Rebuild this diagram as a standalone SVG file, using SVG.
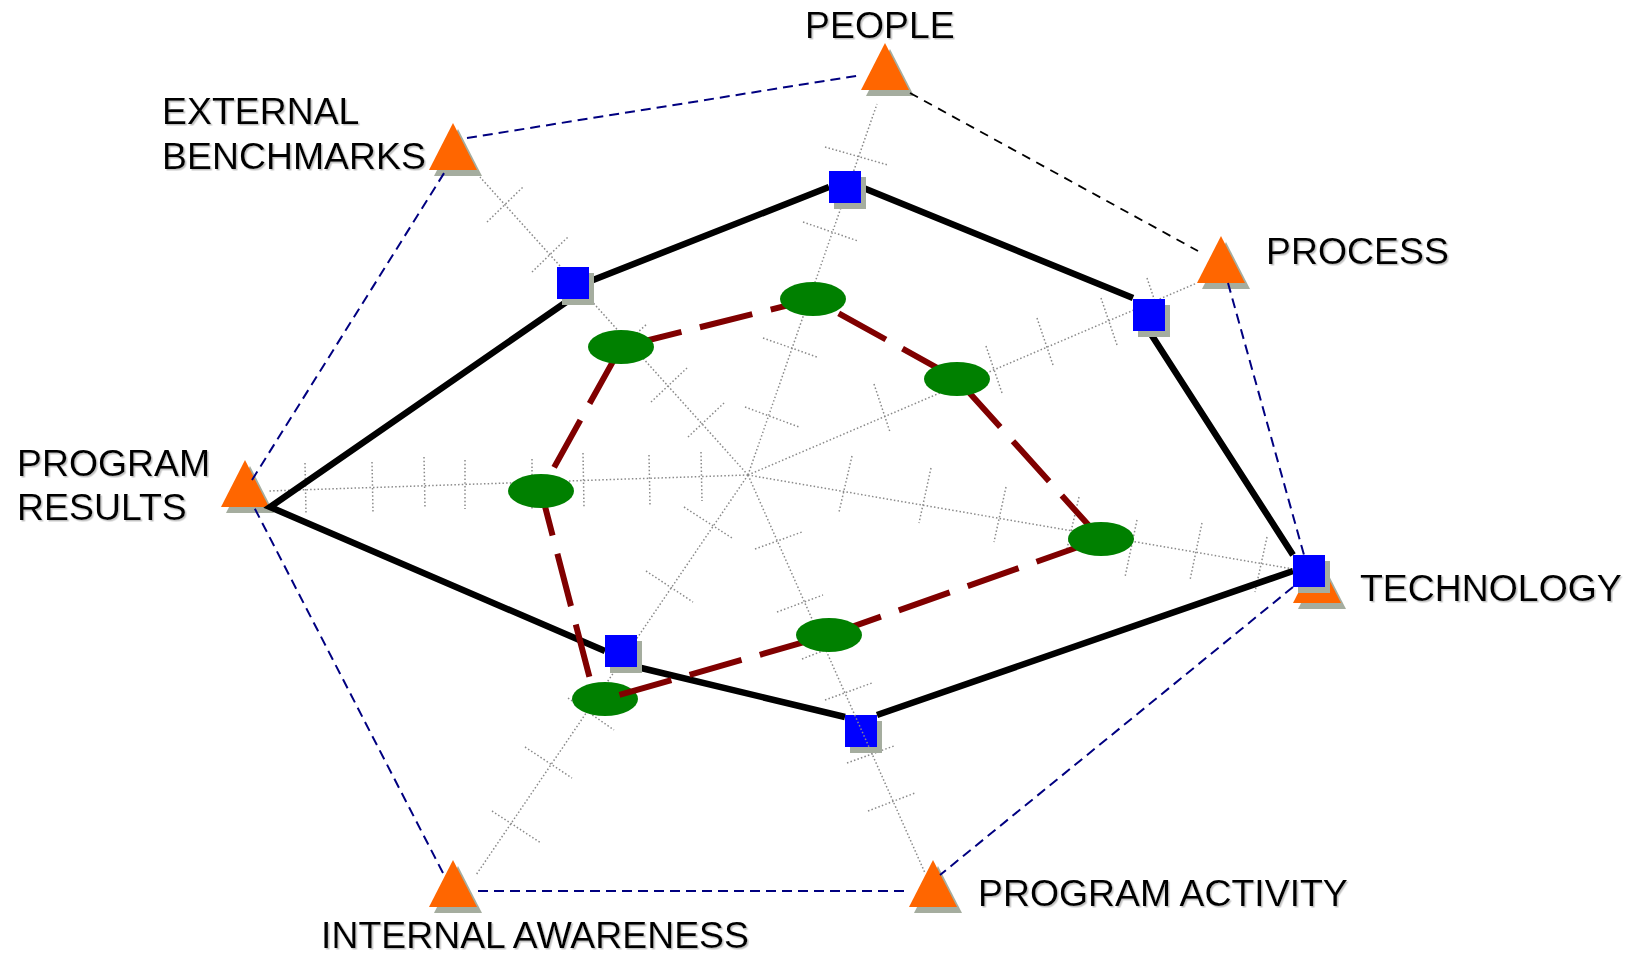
<svg xmlns="http://www.w3.org/2000/svg" width="1634" height="956" viewBox="0 0 1634 956">
<defs>
<style>
.axis{stroke:#8a8a8a;stroke-width:1.5;stroke-dasharray:1.5 2.2;fill:none}
.outline{stroke:#000080;stroke-width:2;stroke-dasharray:10 6;fill:none}
.outline-k{stroke:#000000;stroke-width:1.8;stroke-dasharray:9 7;fill:none}
.poly-k{stroke:#000000;stroke-width:6.5;fill:none;stroke-linejoin:miter;stroke-miterlimit:20}
.poly-r{stroke:#800000;stroke-width:6;fill:none;stroke-dasharray:54 19;stroke-dashoffset:-15}
.tri{fill:#ff6600}
.shadow{fill:#a5ad9f}
.sq{fill:#0000ff}
.ell{fill:#008000}
.lbl{font-family:"Liberation Sans",Arial,sans-serif;font-size:37.4px;fill:#000000;filter:url(#ts)}
</style>
<filter id="ts" x="-5%" y="-20%" width="110%" height="140%">
<feDropShadow dx="1.5" dy="1.5" stdDeviation="0.6" flood-color="#999999" flood-opacity="0.6"/>
</filter>
<path id="triShape" d="M0,0 L24,47 L-24,47 Z"/>
<rect id="sqShape" x="0" y="0" width="32" height="32"/>
</defs>

<!-- axes with ticks -->
<g id="axes">
<path class="axis" d="M748,475 L877,104 M748,475 L1197,283 M748,475 L1293,569 M748,475 L925,873 M748,475 L476,875 M748,475 L268,491 M748,475 L480,177"/>
<path class="axis" d="M745,407 L799,427 M763,338 L817,357 M803,222 L858,241 M825,147 L888,165"/>
<path class="axis" d="M874,384 L890,432 M986,346 L1002,393 M1037,318 L1053,365 M1101,298 L1117,345 M1147,278 L1163,325"/>
<path class="axis" d="M852,456 L839,512 M931,468 L919,523 M1006,487 L994,542 M1079,497 L1066,553 M1137,520 L1125,577 M1202,523 L1190,580 M1267,537 L1255,592"/>
<path class="axis" d="M755,549 L802,532 M777,612 L823,595 M802,659 L848,641 M825,700 L872,683 M847,763 L894,746 M868,811 L915,793"/>
<path class="axis" d="M684,507 L732,538 M646,571 L693,602 M568,698 L614,730 M525,747 L572,778 M492,811 L541,843"/>
<path class="axis" d="M701,452 L702,501 M649,455 L650,505 M583,453 L584,507 M532,459 L532,509 M465,460 L465,509 M424,457 L425,507 M372,462 L373,512 M305,463 L306,513"/>
<path class="axis" d="M688,437 L724,403 M651,402 L687,368 M609,358 L647,324 M532,272 L568,237 M487,222 L523,187"/>
</g>

<!-- category nodes: triangles -->
<g id="node-people"><use href="#triShape" class="shadow" x="890" y="49"/><use href="#triShape" class="tri" x="885" y="43"/></g>
<g id="node-process"><use href="#triShape" class="shadow" x="1226" y="242"/><use href="#triShape" class="tri" x="1221" y="236"/></g>
<g id="node-technology"><use href="#triShape" class="shadow" x="1322" y="562"/><use href="#triShape" class="tri" x="1317" y="556"/></g>
<g id="node-program-activity"><use href="#triShape" class="shadow" x="938" y="866"/><use href="#triShape" class="tri" x="933" y="860"/></g>
<g id="node-internal-awareness"><use href="#triShape" class="shadow" x="458" y="866"/><use href="#triShape" class="tri" x="453" y="860"/></g>
<g id="node-program-results"><use href="#triShape" class="shadow" x="250" y="466"/><use href="#triShape" class="tri" x="245" y="460"/></g>
<g id="node-external-benchmarks"><use href="#triShape" class="shadow" x="458" y="129"/><use href="#triShape" class="tri" x="453" y="123"/></g>

<!-- connectors -->
<g id="connectors">
<path class="outline" d="M467,138 L862,75"/>
<path class="outline-k" d="M910,93 L1198,251"/>
<path class="outline" d="M1228,283 L1304,555"/>
<path class="outline" d="M1293,587 L940,875"/>
<path class="outline" d="M904,891 L476,891"/>
<path class="outline" d="M443,873 L254,507"/>
<path class="outline" d="M252,480 L446,170"/>
<path class="poly-k" d="M572,298 L270,507 L605,651 M588,282 L829,187 M861,187 L1133,298 M1149,331 L1293,555 M1293,571 L877,715 M845,717 L637,667"/>
</g>

<!-- data points: squares -->
<g id="sq-external"><use href="#sqShape" class="shadow" x="562" y="273"/><use href="#sqShape" class="sq" x="557" y="267"/></g>
<g id="sq-people"><use href="#sqShape" class="shadow" x="834" y="177"/><use href="#sqShape" class="sq" x="829" y="171"/></g>
<g id="sq-process"><use href="#sqShape" class="shadow" x="1138" y="305"/><use href="#sqShape" class="sq" x="1133" y="299"/></g>
<g id="sq-technology"><use href="#sqShape" class="shadow" x="1298" y="561"/><use href="#sqShape" class="sq" x="1293" y="555"/></g>
<g id="sq-program-activity"><use href="#sqShape" class="shadow" x="850" y="721"/><use href="#sqShape" class="sq" x="845" y="715"/><path class="axis" d="M854.7,715 L869,747"/></g>
<g id="sq-internal-awareness"><use href="#sqShape" class="shadow" x="610" y="641"/><use href="#sqShape" class="sq" x="605" y="635"/></g>

<g id="el-bottom-left"><ellipse class="ell" cx="605" cy="699" rx="33" ry="17"/></g>

<g id="connectors-red">
<path class="poly-r" d="M605,699 L829,635 L1101,539 L957,379 L813,299 L621,347 L541,491 L591,683"/>
</g>

<!-- data points: ellipses -->
<g id="el-left-upper"><ellipse class="ell" cx="621" cy="347" rx="33" ry="17"/></g>
<g id="el-top"><ellipse class="ell" cx="813" cy="299" rx="33" ry="17"/></g>
<g id="el-right-upper"><ellipse class="ell" cx="957" cy="379" rx="33" ry="17"/></g>
<g id="el-right"><ellipse class="ell" cx="1101" cy="539" rx="33" ry="17"/></g>
<g id="el-bottom"><ellipse class="ell" cx="829" cy="635" rx="33" ry="17"/></g>
<g id="el-left"><ellipse class="ell" cx="541" cy="491" rx="33" ry="17"/></g>

<!-- labels -->
<g id="labels">
<text class="lbl" x="805" y="38">PEOPLE</text>
<text class="lbl" x="162" y="124">EXTERNAL</text>
<text class="lbl" x="162" y="169">BENCHMARKS</text>
<text class="lbl" x="1266" y="264">PROCESS</text>
<text class="lbl" x="17" y="476">PROGRAM</text>
<text class="lbl" x="17" y="520">RESULTS</text>
<text class="lbl" x="1360" y="601">TECHNOLOGY</text>
<text class="lbl" x="978" y="906">PROGRAM ACTIVITY</text>
<text class="lbl" x="321" y="948">INTERNAL AWARENESS</text>
</g>
</svg>
